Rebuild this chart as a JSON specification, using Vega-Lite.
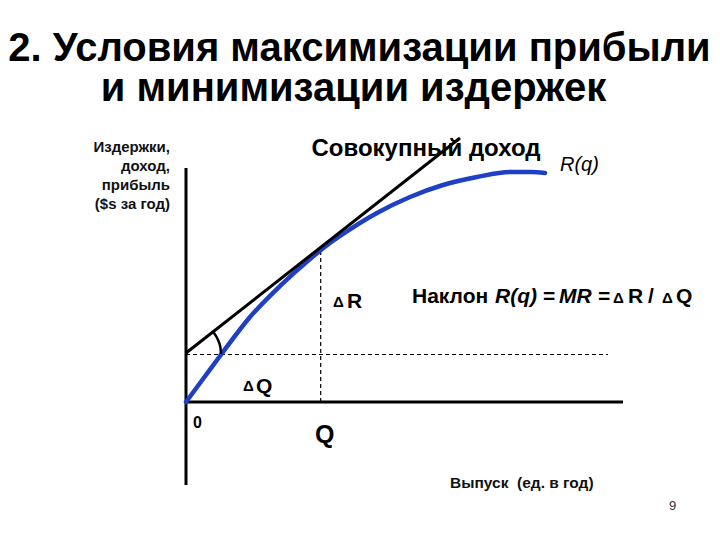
{
  "$schema": "https://vega.github.io/schema/vega-lite/v6.json",
  "width": 720,
  "height": 540,
  "autosize": {"type": "none"},
  "padding": 0,
  "background": "white",
  "config": {"view": {"stroke": null}, "font": "Liberation Sans"},
  "encoding": {
    "x": {"field": "x", "type": "quantitative", "scale": {"domain": [-18.6, 53.4], "nice": false, "zero": false}, "axis": null},
    "y": {"field": "y", "type": "quantitative", "scale": {"domain": [-13.8, 40.2], "nice": false, "zero": false}, "axis": null}
  },
  "layer": [
    {
      "data": {"values": [
        {"id": "v", "x": 0, "y": 23.4}, {"id": "v", "x": 0, "y": -8.3},
        {"id": "h", "x": 0, "y": 0}, {"id": "h", "x": 43.7, "y": 0}
      ]},
      "mark": {"type": "line", "color": "black", "strokeWidth": 3},
      "encoding": {"detail": {"field": "id"}}
    },
    {
      "data": {"values": [
        {"id": "h", "x": 0, "y": 4.75}, {"id": "h", "x": 42.2, "y": 4.75},
        {"id": "v", "x": 13.47, "y": 0}, {"id": "v", "x": 13.47, "y": 15.4}
      ]},
      "mark": {"type": "line", "color": "black", "strokeWidth": 1.2, "strokeDash": [4, 3]},
      "encoding": {"detail": {"field": "id"}}
    },
    {
      "data": {"values": [
        {"x": 0, "y": 0}, {"x": 1.7, "y": 2.3}, {"x": 3.4, "y": 4.6}, {"x": 6.4, "y": 8.5},
        {"x": 9.4, "y": 11.6}, {"x": 12.4, "y": 14.3}, {"x": 14.0, "y": 15.6}, {"x": 15.7, "y": 16.8},
        {"x": 19.1, "y": 18.9}, {"x": 22.4, "y": 20.5}, {"x": 25.7, "y": 21.7}, {"x": 29.1, "y": 22.5},
        {"x": 32.4, "y": 23.0}, {"x": 34.5, "y": 23.0}, {"x": 35.9, "y": 22.9}
      ]},
      "mark": {"type": "line", "color": "#1f3fc4", "strokeWidth": 4.5, "interpolate": "monotone", "strokeCap": "round"},
      "encoding": {}
    },
    {
      "data": {"values": [{"x": 0, "y": 4.9}, {"x": 27.4, "y": 26.4}]},
      "mark": {"type": "line", "color": "black", "strokeWidth": 3},
      "encoding": {}
    },
    {
      "data": {"values": [
        {"x": 3.5, "y": 4.8}, {"x": 3.447, "y": 5.408}, {"x": 3.289, "y": 5.997},
        {"x": 3.031, "y": 6.55}, {"x": 2.758, "y": 6.955}
      ]},
      "mark": {"type": "line", "color": "black", "strokeWidth": 2.5, "interpolate": "monotone"},
      "encoding": {}
    },
    {
      "data": {"values": [
        {"x": 17.35, "y": 34.1, "t": "2. Условия максимизации прибыли"},
        {"x": 16.75, "y": 30.1, "t": "и минимизации издержек"}
      ]},
      "mark": {"type": "text", "fontSize": 40, "fontWeight": "bold", "align": "center", "baseline": "alphabetic", "color": "black"},
      "encoding": {"text": {"field": "t"}}
    },
    {
      "data": {"values": [
        {"x": -1.6, "y": 25.0, "t": "Издержки,"},
        {"x": -1.6, "y": 23.1, "t": "доход,"},
        {"x": -1.6, "y": 21.2, "t": "прибыль"},
        {"x": -1.6, "y": 19.3, "t": "($s за год)"}
      ]},
      "mark": {"type": "text", "fontSize": 15, "fontWeight": "bold", "align": "right", "baseline": "alphabetic", "color": "#111111"},
      "encoding": {"text": {"field": "t"}}
    },
    {
      "data": {"values": [{"x": 24.0, "y": 24.6, "t": "Совокупный доход"}]},
      "mark": {"type": "text", "fontSize": 24, "fontWeight": "bold", "align": "center", "baseline": "alphabetic", "color": "black"},
      "encoding": {"text": {"field": "t"}}
    },
    {
      "data": {"values": [{"x": 37.4, "y": 23.1, "t": "R(q)"}]},
      "mark": {"type": "text", "fontSize": 20, "fontStyle": "italic", "align": "left", "baseline": "alphabetic", "color": "black"},
      "encoding": {"text": {"field": "t"}}
    },
    {
      "data": {"values": [
        {"x": 22.6, "y": 9.9, "t": "Наклон"},
        {"x": 35.7, "y": 9.9, "t": "="},
        {"x": 41.2, "y": 9.9, "t": "="},
        {"x": 44.2, "y": 9.9, "t": "R"},
        {"x": 46.2, "y": 9.9, "t": "/"},
        {"x": 49.0, "y": 9.9, "t": "Q"},
        {"x": 16.1, "y": 9.4, "t": "R"},
        {"x": 7.0, "y": 0.9, "t": "Q"}
      ]},
      "mark": {"type": "text", "fontSize": 21, "fontWeight": "bold", "align": "left", "baseline": "alphabetic", "color": "black"},
      "encoding": {"text": {"field": "t"}}
    },
    {
      "data": {"values": [
        {"x": 30.9, "y": 9.9, "t": "R(q)"},
        {"x": 37.3, "y": 9.9, "t": "MR"}
      ]},
      "mark": {"type": "text", "fontSize": 21, "fontWeight": "bold", "fontStyle": "italic", "align": "left", "baseline": "alphabetic", "color": "black"},
      "encoding": {"text": {"field": "t"}}
    },
    {
      "data": {"values": [
        {"x": 42.7, "y": 9.9, "t": "Δ"},
        {"x": 47.6, "y": 9.9, "t": "Δ"},
        {"x": 14.7, "y": 9.5, "t": "Δ"},
        {"x": 5.7, "y": 1.1, "t": "Δ"}
      ]},
      "mark": {"type": "text", "fontSize": 15, "fontWeight": "bold", "align": "left", "baseline": "alphabetic", "color": "black"},
      "encoding": {"text": {"field": "t"}}
    },
    {
      "data": {"values": [{"x": 0.7, "y": -2.6, "t": "0"}]},
      "mark": {"type": "text", "fontSize": 16, "fontWeight": "bold", "align": "left", "baseline": "alphabetic", "color": "black"},
      "encoding": {"text": {"field": "t"}}
    },
    {
      "data": {"values": [{"x": 12.9, "y": -4.1, "t": "Q"}]},
      "mark": {"type": "text", "fontSize": 25, "fontWeight": "bold", "align": "left", "baseline": "alphabetic", "color": "black"},
      "encoding": {"text": {"field": "t"}}
    },
    {
      "data": {"values": [{"x": 26.4, "y": -8.6, "t": "Выпуск\u00a0\u00a0(ед. в год)"}]},
      "mark": {"type": "text", "fontSize": 15.5, "fontWeight": "bold", "align": "left", "baseline": "alphabetic", "color": "#111111"},
      "encoding": {"text": {"field": "t"}}
    },
    {
      "data": {"values": [{"x": 48.3, "y": -10.8, "t": "9"}]},
      "mark": {"type": "text", "fontSize": 13, "align": "left", "baseline": "alphabetic", "color": "#333333"},
      "encoding": {"text": {"field": "t"}}
    }
  ]
}
